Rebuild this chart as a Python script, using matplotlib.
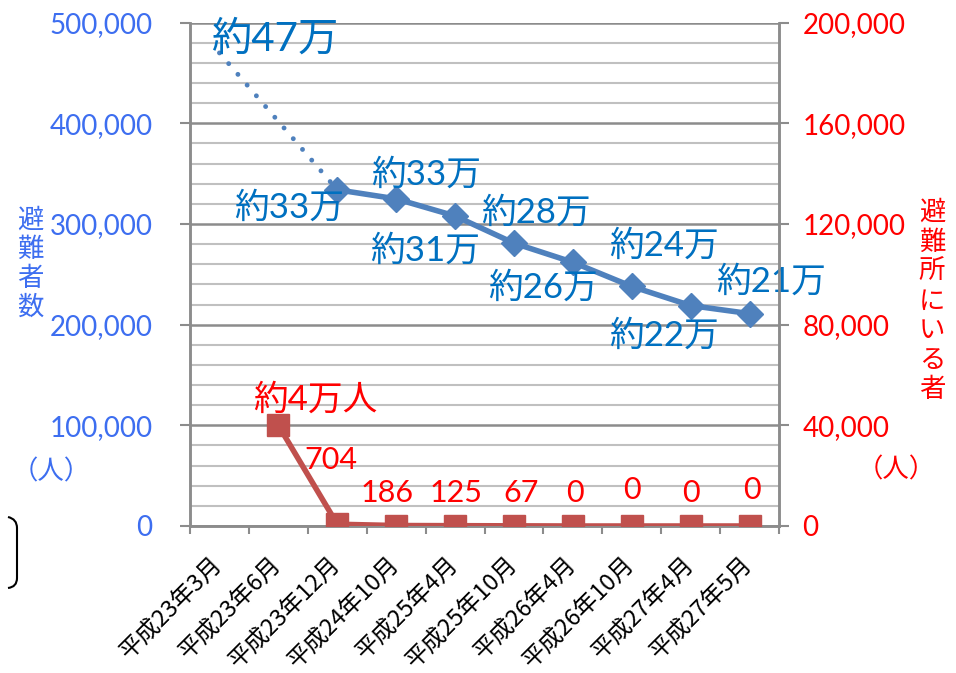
import matplotlib.pyplot as plt
from matplotlib.path import Path
from matplotlib.patches import PathPatch
from matplotlib.ticker import FuncFormatter, MultipleLocator

plt.rcParams['font.family'] = ['Lato', 'Noto Sans CJK JP', 'DejaVu Sans']

# data
periods = ['平成23年3月', '平成23年6月', '平成23年12月', '平成24年10月', '平成25年4月',
           '平成25年10月', '平成26年4月', '平成26年10月', '平成27年4月', '平成27年5月']
evacuees = [470000, None, 334000, 325000, 308000, 281000, 262000, 238000, 219000, 211000]
evacuee_labels = ['約47万', None, '約33万', '約33万', '約31万', '約28万', '約26万', '約24万', '約22万', '約21万']
shelter = [None, 40000, 704, 186, 125, 67, 0, 0, 0, 0]
shelter_labels = [None, '約4万人', '704', '186', '125', '67', '0', '0', '0', '0']

BLUE_LINE = '#4F81BD'
BLUE_TEXT = '#0070C0'
BLUE_TICK = '#3D6EF0'
RED_LINE = '#C0504D'
RED_TEXT = '#FF0000'
GRID_MAJOR = '#8C8C8C'
GRID_MINOR = '#C0C0C0'

fig = plt.figure(figsize=(9.56, 6.73), dpi=100)
ax = fig.add_axes([190 / 956, 1 - 526 / 673, 589 / 956, (526 - 22.7) / 673])
ax2 = ax.twinx()

x = list(range(len(periods)))

# left axis: evacuees
ax.set_xlim(-0.5, len(periods) - 0.5)
ax.set_ylim(0, 500000)
ax.yaxis.set_major_locator(MultipleLocator(100000))
ax.yaxis.set_minor_locator(MultipleLocator(20000))
ax.grid(which='minor', axis='y', color=GRID_MINOR, lw=1.5)
ax.grid(which='major', axis='y', color=GRID_MAJOR, lw=1.8)
ax.set_axisbelow(True)
ax.yaxis.set_major_formatter(FuncFormatter(lambda v, p: f'{int(v):,}'))
ax.tick_params(axis='y', which='major', length=7, width=1.5, color=GRID_MAJOR,
               labelcolor=BLUE_TICK, labelsize=20, pad=20)
ax.tick_params(axis='y', which='minor', length=0)

ax.set_xticks([i - 0.5 for i in range(len(periods) + 1)], minor=True)
ax.set_xticks(x)
ax.set_xticklabels(periods, rotation=45, ha='right', va='center', rotation_mode='anchor',
                   fontsize=17, family=['Noto Sans CJK JP'])
ax.tick_params(axis='x', which='major', length=0, pad=25)
ax.tick_params(axis='x', which='minor', length=6, width=1.5, color=GRID_MAJOR)

ax.spines['top'].set_visible(False)
ax2.spines['top'].set_visible(False)
for a in (ax, ax2):
    for s in ['left', 'right', 'bottom']:
        a.spines[s].set_color(GRID_MAJOR)
        a.spines[s].set_linewidth(1.8)

# blue series: dotted for the first gap, solid afterwards
ax.plot([x[0], x[2]], [evacuees[0], evacuees[2]], color=BLUE_LINE, lw=3.5,
        linestyle=(0, (0.01, 2.9)), dash_capstyle='round')
xs = [i for i in x if i >= 2]
ax.plot(xs, [evacuees[i] for i in xs], color=BLUE_LINE, lw=4, marker='D', ms=13, zorder=3)

blue_offsets = [(55, 14), None, (-48, -18), (30, 24), (-30, -34), (22, 31),
                (-30, -25), (32, 41), (-27, -30), (22, 32)]
for i in x:
    if evacuee_labels[i] is None:
        continue
    size = 29 if i == 0 else 25
    ax.annotate(evacuee_labels[i], (x[i], evacuees[i]), xytext=blue_offsets[i],
                textcoords='offset pixels', ha='center', va='center',
                color=BLUE_TEXT, fontsize=size, zorder=5)

# right axis: people in shelters
ax2.set_ylim(0, 200000)
ax2.yaxis.set_major_locator(MultipleLocator(40000))
ax2.yaxis.set_major_formatter(FuncFormatter(lambda v, p: f'{int(v):,}'))
ax2.tick_params(axis='y', length=7, width=1.5, color=GRID_MAJOR,
                labelcolor=RED_TEXT, labelsize=20, pad=10)

xr = [i for i in x if shelter[i] is not None]
ax2.plot(xr, [shelter[i] for i in xr], color=RED_LINE, lw=4, marker='s', ms=16, zorder=3)

red_offsets = [None, (37, 26), (-6, 64), (-9, 33), (1, 33), (7, 33), (2, 33), (0, 36), (0, 33), (2, 36)]
for i in xr:
    size = 25 if i == 1 else 22
    ax2.annotate(shelter_labels[i], (x[i], shelter[i]), xytext=red_offsets[i],
                 textcoords='offset pixels', ha='center', va='center',
                 color=RED_TEXT, fontsize=size, zorder=5)

# axis titles
fig.text(30 / 956, 1 - 264 / 673, '避\n難\n者\n数', color=BLUE_TICK, fontsize=19,
         ha='center', va='center', linespacing=1.1, family=['Noto Sans CJK JP'])
fig.text(51 / 956, 1 - 472 / 673, '（人）', color=BLUE_TICK, fontsize=19,
         ha='center', va='center', family=['Noto Sans CJK JP'])
fig.text(932 / 956, 1 - 301 / 673, '避\n難\n所\nに\nい\nる\n者', color=RED_TEXT, fontsize=19,
         ha='center', va='center', linespacing=1.12, family=['Noto Sans CJK JP'])
fig.text(896 / 956, 1 - 470 / 673, '（人）', color=RED_TEXT, fontsize=19,
         ha='center', va='center', family=['Noto Sans CJK JP'])

# bracket at the lower left
W, H = 956, 673
pts = [(8, 517), (17, 519), (17, 528), (17, 578), (17, 587), (8, 588)]
codes = [Path.MOVETO, Path.CURVE3, Path.CURVE3, Path.LINETO, Path.CURVE3, Path.CURVE3]
verts = [(px / W, 1 - py / H) for px, py in pts]
fig.patches.append(PathPatch(Path(verts, codes), transform=fig.transFigure,
                             fill=False, color='black', lw=1.5))

fig.savefig('out.png', dpi=100)
